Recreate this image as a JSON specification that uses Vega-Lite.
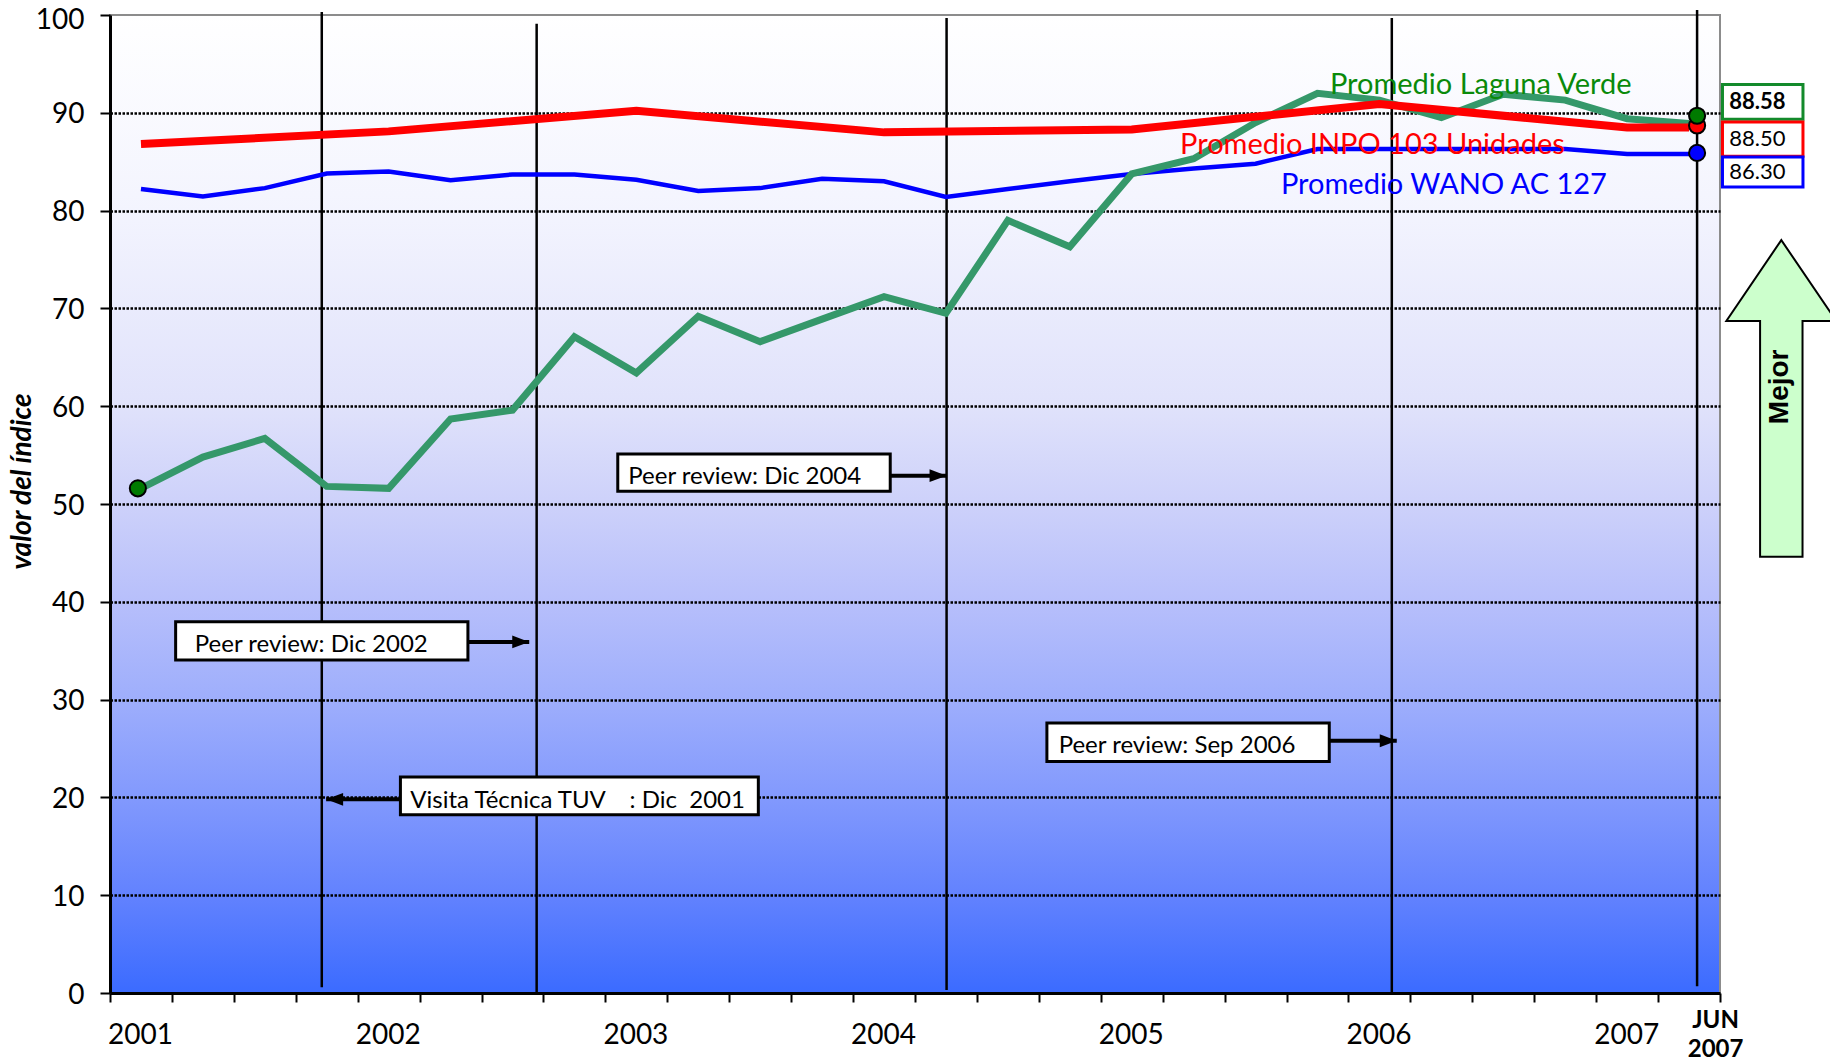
{
  "$schema": "https://vega.github.io/schema/vega-lite/v6.json",
  "width": 1610,
  "height": 978,
  "autosize": {"type": "none"},
  "padding": {"left": 110, "right": 110, "top": 15, "bottom": 69},
  "background": "white",
  "view": {
    "fill": {
      "gradient": "linear", "x1": 0, "y1": 0, "x2": 0, "y2": 1,
      "stops": [
        {"offset": 0, "color": "#ffffff"},
        {"offset": 0.2, "color": "#f3f4fe"},
        {"offset": 0.4, "color": "#e0e2fb"},
        {"offset": 0.5, "color": "#cdd1fa"},
        {"offset": 0.6, "color": "#b7bffb"},
        {"offset": 0.7, "color": "#9eaefc"},
        {"offset": 0.8, "color": "#8299fd"},
        {"offset": 0.9, "color": "#6282fe"},
        {"offset": 1, "color": "#3b6bff"}
      ]
    },
    "stroke": "#8c8c8c",
    "strokeWidth": 2
  },
  "config": {"font": "Lato", "text": {"font": "Lato"}},
  "datasets": {
    "green": [
      {"x": 0.5, "v": 51.6}, {"x": 1.5, "v": 54.8}, {"x": 2.5, "v": 56.7}, {"x": 3.5, "v": 51.8},
      {"x": 4.5, "v": 51.6}, {"x": 5.5, "v": 58.7}, {"x": 6.5, "v": 59.6}, {"x": 7.5, "v": 67.1},
      {"x": 8.5, "v": 63.4}, {"x": 9.5, "v": 69.2}, {"x": 10.5, "v": 66.6}, {"x": 11.5, "v": 68.9},
      {"x": 12.5, "v": 71.2}, {"x": 13.5, "v": 69.5}, {"x": 14.5, "v": 79.0}, {"x": 15.5, "v": 76.3},
      {"x": 16.5, "v": 83.75}, {"x": 17.5, "v": 85.3}, {"x": 18.5, "v": 89.0}, {"x": 19.5, "v": 92.0},
      {"x": 20.5, "v": 91.3}, {"x": 21.5, "v": 89.5}, {"x": 22.5, "v": 91.9}, {"x": 23.5, "v": 91.3},
      {"x": 24.5, "v": 89.4}, {"x": 25.5, "v": 88.9}
    ],
    "red": [
      {"x": 0.5, "v": 86.8}, {"x": 4.5, "v": 88.1}, {"x": 8.5, "v": 90.2}, {"x": 12.5, "v": 88.0},
      {"x": 16.5, "v": 88.3}, {"x": 20.5, "v": 90.9}, {"x": 24.5, "v": 88.5}, {"x": 25.5, "v": 88.5}
    ],
    "blue": [
      {"x": 0.5, "v": 82.2}, {"x": 1.5, "v": 81.45}, {"x": 2.5, "v": 82.3}, {"x": 3.5, "v": 83.8},
      {"x": 4.5, "v": 84.0}, {"x": 5.5, "v": 83.1}, {"x": 6.5, "v": 83.7}, {"x": 7.5, "v": 83.7},
      {"x": 8.5, "v": 83.15}, {"x": 9.5, "v": 82.0}, {"x": 10.5, "v": 82.3}, {"x": 11.5, "v": 83.25},
      {"x": 12.5, "v": 83.0}, {"x": 13.5, "v": 81.4}, {"x": 14.5, "v": 82.2}, {"x": 15.5, "v": 83.0},
      {"x": 16.5, "v": 83.75}, {"x": 17.5, "v": 84.3}, {"x": 18.5, "v": 84.8}, {"x": 19.5, "v": 86.3},
      {"x": 20.5, "v": 86.3}, {"x": 21.5, "v": 86.3}, {"x": 22.5, "v": 86.3}, {"x": 23.5, "v": 86.3},
      {"x": 24.5, "v": 85.8}, {"x": 25.5, "v": 85.8}
    ],
    "vlines": [
      {"x": 3.42, "v": 0.6, "v2": 100.3},
      {"x": 6.89, "v": 0, "v2": 99.1},
      {"x": 13.51, "v": 0.3, "v2": 99.7},
      {"x": 20.7, "v": 0, "v2": 99.7},
      {"x": 25.63, "v": 0.7, "v2": 100.5}
    ],
    "markers": [
      {"serie": "LV", "x": 0.45, "v": 51.6},
      {"serie": "INPO", "x": 25.63, "v": 88.7},
      {"serie": "LV", "x": 25.63, "v": 89.7},
      {"serie": "WANO", "x": 25.63, "v": 85.9}
    ],
    "serieLabels": [
      {"serie": "LV", "label": "Promedio Laguna Verde", "x": 19.7, "v": 92.8},
      {"serie": "INPO", "label": "Promedio INPO 103 Unidades", "x": 17.28, "v": 86.7},
      {"serie": "WANO", "label": "Promedio WANO AC 127", "x": 18.91, "v": 82.6}
    ],
    "boxes": [
      {"label": "Peer review: Dic 2002", "x": 1.06, "x2": 5.78, "v": 34.05, "v2": 37.95, "tx": 1.37, "tv": 35.55},
      {"label": "Peer review: Dic 2004", "x": 8.2, "x2": 12.6, "v": 51.3, "v2": 55.1, "tx": 8.37, "tv": 52.75},
      {"label": "Peer review: Sep 2006", "x": 15.13, "x2": 19.69, "v": 23.68, "v2": 27.6, "tx": 15.32, "tv": 25.25},
      {"label": "Visita Técnica TUV\u00a0\u00a0\u00a0 : Dic\u00a0 2001", "x": 4.69, "x2": 10.47, "v": 18.23, "v2": 22.08, "tx": 4.85, "tv": 19.6}
    ],
    "arrows": [
      {"dir": "right", "x": 5.78, "x2": 6.77, "v": 35.9},
      {"dir": "right", "x": 12.6, "x2": 13.51, "v": 52.9},
      {"dir": "right", "x": 19.69, "x2": 20.78, "v": 25.8},
      {"dir": "left", "x": 4.69, "x2": 3.49, "v": 19.8}
    ],
    "valueBoxes": [
      {"serie": "LV", "label": "88.58", "x": 26.04, "x2": 27.34, "v": 89.33, "v2": 92.9, "tx": 26.15, "tv": 91.1},
      {"serie": "INPO", "label": "88.50", "x": 26.04, "x2": 27.34, "v": 85.55, "v2": 89.05, "tx": 26.15, "tv": 87.3},
      {"serie": "WANO", "label": "86.30", "x": 26.04, "x2": 27.34, "v": 82.41, "v2": 85.48, "tx": 26.15, "tv": 83.94}
    ],
    "mejor": [
      {"label": "Mejor", "x": 26.99, "v": 60.79, "tx": 26.97, "tv": 61.98}
    ]
  },
  "layer": [
    {
      "data": {"name": "vlines"},
      "mark": {"type": "rule", "color": "black", "strokeWidth": 2.5},
      "encoding": {
        "x": {
          "field": "x", "type": "quantitative",
          "scale": {"domain": [0, 26], "nice": false, "zero": false},
          "axis": {
            "values": [0,1,2,3,4,5,6,7,8,9,10,11,12,13,14,15,16,17,18,19,20,21,22,23,24,25,26],
            "title": null,
            "grid": false,
            "domainColor": "black", "domainWidth": 3,
            "tickColor": "black", "tickWidth": 2, "tickSize": 9,
            "labelExpr": "datum.value == 25 ? ['JUN', '2007'] : ((datum.value % 4 == 0 && datum.value < 25) ? '' + (2001 + datum.value / 4) : '')",
            "labelOffset": {"condition": {"test": "datum.value == 25", "value": 57}, "value": 30},
            "labelPadding": {"condition": {"test": "datum.value == 25", "value": 18}, "value": 33},
            "labelFontWeight": {"condition": {"test": "datum.value == 25", "value": "bold"}, "value": "normal"},
            "labelFontSize": {"condition": {"test": "datum.value == 25", "value": 24}, "value": 28},
            "labelBaseline": "middle",
            "labelLineHeight": 29,
            "labelFlush": false, "labelOverlap": false, "labelBound": false,
            "labelColor": "black", "labelFont": "Lato"
          }
        },
        "y": {
          "field": "v", "type": "quantitative",
          "scale": {"domain": [0, 100], "nice": false, "zero": false},
          "axis": {
            "values": [0,10,20,30,40,50,60,70,80,90,100],
            "title": "valor del índice",
            "grid": true, "gridColor": "black", "gridDash": [2.5, 1.5], "gridWidth": 2.5,
            "gridOpacity": {"condition": {"test": "datum.value == 0 || datum.value == 100", "value": 0}, "value": 1},
            "domainColor": "black", "domainWidth": 3,
            "tickColor": "black", "tickWidth": 2, "tickSize": 10,
            "labelFontSize": 28, "labelPadding": 16, "labelColor": "black", "labelFont": "Lato",
            "labelOffset": {"condition": {"test": "datum.value == 100", "value": 5}, "value": 2},
            "labelFlush": false, "labelOverlap": false,
            "titleFont": "Lato", "titleFontSize": 28, "titleFontWeight": "bold", "titleFontStyle": "italic",
            "titleColor": "black", "titleAngle": 270, "titleX": -88, "titleY": 466,
            "titleAlign": "center", "titleBaseline": "middle"
          }
        },
        "y2": {"field": "v2"}
      }
    },
    {
      "data": {"name": "blue"},
      "mark": {"type": "line", "color": "#0000ff", "strokeWidth": 4.5},
      "encoding": {
        "x": {"field": "x", "type": "quantitative"},
        "y": {"field": "v", "type": "quantitative"}
      }
    },
    {
      "data": {"name": "green"},
      "mark": {"type": "line", "color": "#35986a", "strokeWidth": 7},
      "encoding": {
        "x": {"field": "x", "type": "quantitative"},
        "y": {"field": "v", "type": "quantitative"}
      }
    },
    {
      "data": {"name": "red"},
      "mark": {"type": "line", "color": "#ff0000", "strokeWidth": 8},
      "encoding": {
        "x": {"field": "x", "type": "quantitative"},
        "y": {"field": "v", "type": "quantitative"}
      }
    },
    {
      "data": {"name": "markers"},
      "mark": {"type": "circle", "size": 260, "opacity": 1, "stroke": "black", "strokeWidth": 2},
      "encoding": {
        "x": {"field": "x", "type": "quantitative"},
        "y": {"field": "v", "type": "quantitative"},
        "fill": {"field": "serie", "type": "nominal", "scale": {"domain": ["LV", "INPO", "WANO"], "range": ["#007a00", "#ff0000", "#0000ff"]}, "legend": null}
      }
    },
    {
      "data": {"name": "serieLabels"},
      "mark": {"type": "text", "align": "left", "baseline": "middle", "fontSize": 29, "font": "Lato"},
      "encoding": {
        "x": {"field": "x", "type": "quantitative"},
        "y": {"field": "v", "type": "quantitative"},
        "text": {"field": "label"},
        "color": {"field": "serie", "type": "nominal", "scale": {"domain": ["LV", "INPO", "WANO"], "range": ["#0a8a0a", "#ff0000", "#0000ff"]}, "legend": null}
      }
    },
    {
      "data": {"name": "boxes"},
      "mark": {"type": "rect", "fill": "white", "stroke": "black", "strokeWidth": 3},
      "encoding": {
        "x": {"field": "x", "type": "quantitative"},
        "x2": {"field": "x2"},
        "y": {"field": "v", "type": "quantitative"},
        "y2": {"field": "v2"}
      }
    },
    {
      "data": {"name": "boxes"},
      "mark": {"type": "text", "align": "left", "baseline": "middle", "fontSize": 24, "font": "Lato", "color": "black"},
      "encoding": {
        "x": {"field": "tx", "type": "quantitative"},
        "y": {"field": "tv", "type": "quantitative"},
        "text": {"field": "label"}
      }
    },
    {
      "data": {"name": "arrows"},
      "mark": {"type": "rule", "color": "black", "strokeWidth": 4},
      "encoding": {
        "x": {"field": "x", "type": "quantitative"},
        "x2": {"field": "x2"},
        "y": {"field": "v", "type": "quantitative"}
      }
    },
    {
      "data": {"name": "arrows"},
      "mark": {"type": "point", "filled": true, "color": "black", "opacity": 1, "size": 289},
      "encoding": {
        "x": {"field": "x2", "type": "quantitative"},
        "y": {"field": "v", "type": "quantitative"},
        "shape": {"field": "dir", "type": "nominal", "scale": {"domain": ["right", "left"], "range": ["M-2,-0.76L0,0L-2,0.76Z", "M2,-0.76L0,0L2,0.76Z"]}, "legend": null}
      }
    },
    {
      "data": {"name": "valueBoxes"},
      "mark": {"type": "rect", "fill": "white", "strokeWidth": 3},
      "encoding": {
        "x": {"field": "x", "type": "quantitative"},
        "x2": {"field": "x2"},
        "y": {"field": "v", "type": "quantitative"},
        "y2": {"field": "v2"},
        "stroke": {"field": "serie", "type": "nominal", "scale": {"domain": ["LV", "INPO", "WANO"], "range": ["#138a2b", "#ff0000", "#0000ff"]}, "legend": null}
      }
    },
    {
      "data": {"name": "valueBoxes"},
      "transform": [{"filter": "datum.serie == 'LV'"}],
      "mark": {"type": "text", "align": "left", "baseline": "middle", "fontSize": 22, "fontWeight": "bold", "font": "Lato", "color": "black"},
      "encoding": {
        "x": {"field": "tx", "type": "quantitative"},
        "y": {"field": "tv", "type": "quantitative"},
        "text": {"field": "label"}
      }
    },
    {
      "data": {"name": "valueBoxes"},
      "transform": [{"filter": "datum.serie != 'LV'"}],
      "mark": {"type": "text", "align": "left", "baseline": "middle", "fontSize": 22, "font": "Lato", "color": "black"},
      "encoding": {
        "x": {"field": "tx", "type": "quantitative"},
        "y": {"field": "tv", "type": "quantitative"},
        "text": {"field": "label"}
      }
    },
    {
      "data": {"name": "mejor"},
      "mark": {"type": "point", "shape": "M0,-1L0.347,-0.49L0.134,-0.49L0.134,1L-0.134,1L-0.134,-0.49L-0.347,-0.49Z", "size": 100300, "filled": true, "fill": "#ccffcc", "stroke": "black", "strokeWidth": 2, "opacity": 1},
      "encoding": {
        "x": {"field": "x", "type": "quantitative"},
        "y": {"field": "v", "type": "quantitative"}
      }
    },
    {
      "data": {"name": "mejor"},
      "mark": {"type": "text", "angle": 270, "align": "center", "baseline": "middle", "fontSize": 28, "fontWeight": "bold", "font": "Liberation Sans", "color": "black"},
      "encoding": {
        "x": {"field": "tx", "type": "quantitative"},
        "y": {"field": "tv", "type": "quantitative"},
        "text": {"field": "label"}
      }
    }
  ],
  "resolve": {"scale": {"color": "independent", "fill": "independent", "stroke": "independent", "shape": "independent"}}
}
